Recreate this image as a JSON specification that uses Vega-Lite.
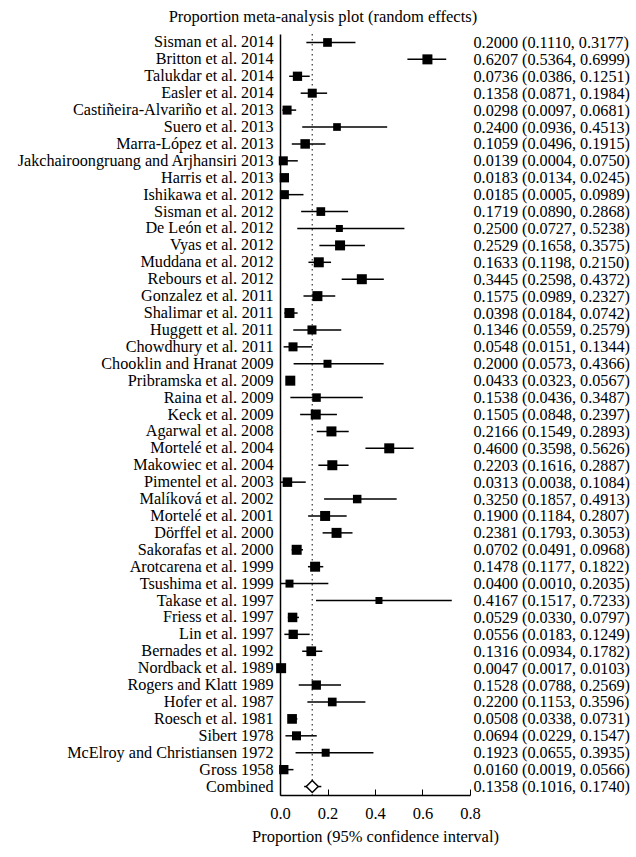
{
  "$schema": "https://vega.github.io/schema/vega-lite/v6.json",
  "autosize": "none",
  "width": 190,
  "height": 761,
  "padding": {"left": 280, "top": 34, "right": 166, "bottom": 62},
  "title": {"text": "Proportion meta-analysis plot (random effects)", "frame": "bounds", "anchor": "middle", "font": "Liberation Serif", "fontSize": 16.5, "fontWeight": "normal", "color": "black", "offset": 8},
  "config": {"view": {"stroke": null}},
  "data": {"values": [
    {"name": "Sisman et al. 2014", "est": 0.2000, "lo": 0.1110, "hi": 0.3177, "weight": 1.89, "type": "study", "ci": "0.2000 (0.1110, 0.3177)"},
    {"name": "Britton et al. 2014", "est": 0.6207, "lo": 0.5364, "hi": 0.6999, "weight": 2.5, "type": "study", "ci": "0.6207 (0.5364, 0.6999)"},
    {"name": "Talukdar et al. 2014", "est": 0.0736, "lo": 0.0386, "hi": 0.1251, "weight": 2.16, "type": "study", "ci": "0.0736 (0.0386, 0.1251)"},
    {"name": "Easler et al. 2014", "est": 0.1358, "lo": 0.0871, "hi": 0.1984, "weight": 2.03, "type": "study", "ci": "0.1358 (0.0871, 0.1984)"},
    {"name": "Castiñeira-Alvariño et al. 2013", "est": 0.0298, "lo": 0.0097, "hi": 0.0681, "weight": 2.03, "type": "study", "ci": "0.0298 (0.0097, 0.0681)"},
    {"name": "Suero et al. 2013", "est": 0.2400, "lo": 0.0936, "hi": 0.4513, "weight": 1.48, "type": "study", "ci": "0.2400 (0.0936, 0.4513)"},
    {"name": "Marra-López et al. 2013", "est": 0.1059, "lo": 0.0496, "hi": 0.1915, "weight": 2.26, "type": "study", "ci": "0.1059 (0.0496, 0.1915)"},
    {"name": "Jakchairoongruang and Arjhansiri 2013", "est": 0.0139, "lo": 0.0004, "hi": 0.0750, "weight": 2.03, "type": "study", "ci": "0.0139 (0.0004, 0.0750)"},
    {"name": "Harris et al. 2013", "est": 0.0183, "lo": 0.0134, "hi": 0.0245, "weight": 2.16, "type": "study", "ci": "0.0183 (0.0134, 0.0245)"},
    {"name": "Ishikawa et al. 2012", "est": 0.0185, "lo": 0.0005, "hi": 0.0989, "weight": 2.03, "type": "study", "ci": "0.0185 (0.0005, 0.0989)"},
    {"name": "Sisman et al. 2012", "est": 0.1719, "lo": 0.0890, "hi": 0.2868, "weight": 1.89, "type": "study", "ci": "0.1719 (0.0890, 0.2868)"},
    {"name": "De León et al. 2012", "est": 0.2500, "lo": 0.0727, "hi": 0.5238, "weight": 1.23, "type": "study", "ci": "0.2500 (0.0727, 0.5238)"},
    {"name": "Vyas et al. 2012", "est": 0.2529, "lo": 0.1658, "hi": 0.3575, "weight": 2.5, "type": "study", "ci": "0.2529 (0.1658, 0.3575)"},
    {"name": "Muddana et al. 2012", "est": 0.1633, "lo": 0.1198, "hi": 0.2150, "weight": 2.5, "type": "study", "ci": "0.1633 (0.1198, 0.2150)"},
    {"name": "Rebours et al. 2012", "est": 0.3445, "lo": 0.2598, "hi": 0.4372, "weight": 2.5, "type": "study", "ci": "0.3445 (0.2598, 0.4372)"},
    {"name": "Gonzalez et al. 2011", "est": 0.1575, "lo": 0.0989, "hi": 0.2327, "weight": 2.5, "type": "study", "ci": "0.1575 (0.0989, 0.2327)"},
    {"name": "Shalimar et al. 2011", "est": 0.0398, "lo": 0.0184, "hi": 0.0742, "weight": 2.5, "type": "study", "ci": "0.0398 (0.0184, 0.0742)"},
    {"name": "Huggett et al. 2011", "est": 0.1346, "lo": 0.0559, "hi": 0.2579, "weight": 2.03, "type": "study", "ci": "0.1346 (0.0559, 0.2579)"},
    {"name": "Chowdhury et al. 2011", "est": 0.0548, "lo": 0.0151, "hi": 0.1344, "weight": 2.03, "type": "study", "ci": "0.0548 (0.0151, 0.1344)"},
    {"name": "Chooklin and Hranat 2009", "est": 0.2000, "lo": 0.0573, "hi": 0.4366, "weight": 1.6, "type": "study", "ci": "0.2000 (0.0573, 0.4366)"},
    {"name": "Pribramska et al. 2009", "est": 0.0433, "lo": 0.0323, "hi": 0.0567, "weight": 2.5, "type": "study", "ci": "0.0433 (0.0323, 0.0567)"},
    {"name": "Raina et al. 2009", "est": 0.1538, "lo": 0.0436, "hi": 0.3487, "weight": 1.81, "type": "study", "ci": "0.1538 (0.0436, 0.3487)"},
    {"name": "Keck et al. 2009", "est": 0.1505, "lo": 0.0848, "hi": 0.2397, "weight": 2.5, "type": "study", "ci": "0.1505 (0.0848, 0.2397)"},
    {"name": "Agarwal et al. 2008", "est": 0.2166, "lo": 0.1549, "hi": 0.2893, "weight": 2.5, "type": "study", "ci": "0.2166 (0.1549, 0.2893)"},
    {"name": "Mortelé et al. 2004", "est": 0.4600, "lo": 0.3598, "hi": 0.5626, "weight": 2.5, "type": "study", "ci": "0.4600 (0.3598, 0.5626)"},
    {"name": "Makowiec et al. 2004", "est": 0.2203, "lo": 0.1616, "hi": 0.2887, "weight": 2.5, "type": "study", "ci": "0.2203 (0.1616, 0.2887)"},
    {"name": "Pimentel et al. 2003", "est": 0.0313, "lo": 0.0038, "hi": 0.1084, "weight": 2.26, "type": "study", "ci": "0.0313 (0.0038, 0.1084)"},
    {"name": "Malíková et al. 2002", "est": 0.3250, "lo": 0.1857, "hi": 0.4913, "weight": 1.81, "type": "study", "ci": "0.3250 (0.1857, 0.4913)"},
    {"name": "Mortelé et al. 2001", "est": 0.1900, "lo": 0.1184, "hi": 0.2807, "weight": 2.5, "type": "study", "ci": "0.1900 (0.1184, 0.2807)"},
    {"name": "Dörffel et al. 2000", "est": 0.2381, "lo": 0.1793, "hi": 0.3053, "weight": 2.5, "type": "study", "ci": "0.2381 (0.1793, 0.3053)"},
    {"name": "Sakorafas et al. 2000", "est": 0.0702, "lo": 0.0491, "hi": 0.0968, "weight": 2.5, "type": "study", "ci": "0.0702 (0.0491, 0.0968)"},
    {"name": "Arotcarena et al. 1999", "est": 0.1478, "lo": 0.1177, "hi": 0.1822, "weight": 2.5, "type": "study", "ci": "0.1478 (0.1177, 0.1822)"},
    {"name": "Tsushima et al. 1999", "est": 0.0400, "lo": 0.0010, "hi": 0.2035, "weight": 1.6, "type": "study", "ci": "0.0400 (0.0010, 0.2035)"},
    {"name": "Takase et al. 1997", "est": 0.4167, "lo": 0.1517, "hi": 0.7233, "weight": 1.23, "type": "study", "ci": "0.4167 (0.1517, 0.7233)"},
    {"name": "Friess et al. 1997", "est": 0.0529, "lo": 0.0330, "hi": 0.0797, "weight": 2.26, "type": "study", "ci": "0.0529 (0.0330, 0.0797)"},
    {"name": "Lin et al. 1997", "est": 0.0556, "lo": 0.0183, "hi": 0.1249, "weight": 2.16, "type": "study", "ci": "0.0556 (0.0183, 0.1249)"},
    {"name": "Bernades et al. 1992", "est": 0.1316, "lo": 0.0934, "hi": 0.1782, "weight": 2.35, "type": "study", "ci": "0.1316 (0.0934, 0.1782)"},
    {"name": "Nordback et al. 1989", "est": 0.0047, "lo": 0.0017, "hi": 0.0103, "weight": 2.5, "type": "study", "ci": "0.0047 (0.0017, 0.0103)"},
    {"name": "Rogers and Klatt 1989", "est": 0.1528, "lo": 0.0788, "hi": 0.2569, "weight": 2.16, "type": "study", "ci": "0.1528 (0.0788, 0.2569)"},
    {"name": "Hofer et al. 1987", "est": 0.2200, "lo": 0.1153, "hi": 0.3596, "weight": 1.89, "type": "study", "ci": "0.2200 (0.1153, 0.3596)"},
    {"name": "Roesch et al. 1981", "est": 0.0508, "lo": 0.0338, "hi": 0.0731, "weight": 2.35, "type": "study", "ci": "0.0508 (0.0338, 0.0731)"},
    {"name": "Sibert 1978", "est": 0.0694, "lo": 0.0229, "hi": 0.1547, "weight": 2.03, "type": "study", "ci": "0.0694 (0.0229, 0.1547)"},
    {"name": "McElroy and Christiansen 1972", "est": 0.1923, "lo": 0.0655, "hi": 0.3935, "weight": 1.6, "type": "study", "ci": "0.1923 (0.0655, 0.3935)"},
    {"name": "Gross 1958", "est": 0.0160, "lo": 0.0019, "hi": 0.0566, "weight": 2.16, "type": "study", "ci": "0.0160 (0.0019, 0.0566)"},
    {"name": "Combined", "est": 0.1358, "lo": 0.1016, "hi": 0.1740, "weight": null, "type": "pooled", "ci": "0.1358 (0.1016, 0.1740)"}
  ]},
  "layer": [
    {
      "layer": [
        {
          "data": {"values": [{"pooled": 0.1358}]},
          "mark": {"type": "rule", "color": "#444444", "strokeDash": [1.5, 3.5], "strokeWidth": 1.3},
          "encoding": {"x": {"field": "pooled", "type": "quantitative"}}
        },
        {
          "mark": {"type": "rule", "color": "black", "strokeWidth": 1.5},
          "encoding": {
            "y": {"field": "name", "type": "nominal", "sort": null,
              "axis": {"title": null, "domain": true, "domainColor": "black", "domainWidth": 1.5, "ticks": false, "labelFont": "Liberation Serif", "labelFontSize": 16.2, "labelColor": "black", "labelPadding": 7, "labelLimit": 0}},
            "x": {"field": "lo", "type": "quantitative", "scale": {"domain": [0, 0.8], "nice": false, "zero": false},
              "axis": {"title": "Proportion (95% confidence interval)", "grid": false,
                "values": [0, 0.05, 0.1, 0.15, 0.2, 0.25, 0.3, 0.35, 0.4, 0.45, 0.5, 0.55, 0.6, 0.65, 0.7, 0.75, 0.8],
                "labelExpr": "abs(datum.value*5 - round(datum.value*5)) < 0.001 ? format(datum.value, '.1f') : ''",
                "tickSize": {"condition": {"test": "abs(datum.value*5 - round(datum.value*5)) < 0.001", "value": -6}, "value": -3},
                "tickColor": "black", "tickWidth": 1, "domainColor": "black", "domainWidth": 1.5,
                "labelFont": "Liberation Serif", "labelFontSize": 16.5, "labelColor": "black", "labelPadding": 16, "labelFlush": false,
                "titleFont": "Liberation Serif", "titleFontSize": 16.5, "titleFontWeight": "normal", "titleColor": "black", "titlePadding": 7}},
            "x2": {"field": "hi"}
          }
        },
        {
          "transform": [{"filter": "datum.type === 'study'"}],
          "mark": {"type": "square", "color": "black", "opacity": 1},
          "encoding": {
            "y": {"field": "name", "type": "nominal", "sort": null},
            "x": {"field": "est", "type": "quantitative"},
            "size": {"field": "weight", "type": "quantitative", "scale": {"domain": [0, 2.5], "range": [0, 100], "zero": true}, "legend": null}
          }
        },
        {
          "transform": [{"filter": "datum.type === 'pooled'"}],
          "mark": {"type": "point", "shape": "diamond", "filled": true, "fill": "white", "stroke": "black", "strokeWidth": 1.5, "size": 144, "opacity": 1},
          "encoding": {
            "y": {"field": "name", "type": "nominal", "sort": null},
            "x": {"field": "est", "type": "quantitative"}
          }
        }
      ]
    },
    {
      "mark": {"type": "point", "opacity": 0},
      "encoding": {
        "y": {"field": "ci", "type": "nominal", "sort": null,
          "axis": {"orient": "right", "title": null, "domain": false, "ticks": false, "labelFont": "Liberation Serif", "labelFontSize": 16.2, "labelColor": "black", "labelPadding": 3, "labelLimit": 0}},
        "x": {"field": "est", "type": "quantitative"}
      }
    }
  ],
  "resolve": {"scale": {"y": "independent"}}
}
